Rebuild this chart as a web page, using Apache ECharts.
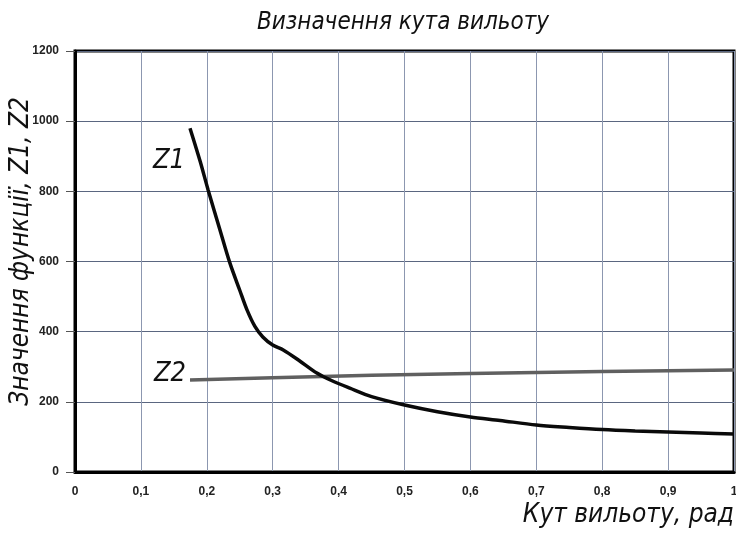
<!DOCTYPE html>
<html><head><meta charset="utf-8">
<script src="https://cdn.jsdelivr.net/npm/echarts@6/dist/echarts.min.js"></script>
<style>html,body{margin:0;padding:0;background:#fff}#c{width:736px;height:535px}</style>
</head><body><div id="c"></div>
<script>
const titleText = 'Визначення кута вильоту';
const xName = 'Кут вильоту, рад';
const yName = 'Значення функції, Z1, Z2';
const z1Name = 'Z1';
const z2Name = 'Z2';
const z1X = [0.1745, 0.19, 0.202, 0.22, 0.235, 0.25, 0.261, 0.273, 0.285, 0.30, 0.316, 0.34, 0.367, 0.39, 0.417, 0.45, 0.5, 0.55, 0.6, 0.645, 0.7, 0.75, 0.8, 0.85, 0.9, 0.95, 1.0];
const z1Y = [980, 885, 804, 690, 596, 518, 462, 415, 385, 362, 348, 318, 282, 260, 239, 215, 191, 172, 157, 147, 134, 127, 121, 117, 114, 111, 108];
const z2X = [0.1745, 0.3, 0.45, 0.6, 0.8, 1.0];
const z2Y = [262, 268.5, 275.5, 281, 286.5, 291];
const fontLabel = '"Liberation Sans Narrow", "DejaVu Sans Condensed", sans-serif';

const chart = echarts.init(document.getElementById('c'), null, {renderer: 'canvas'});
const pairs = (xs, ys) => xs.map((x, i) => [x, ys[i]]);
const italicText = {fontFamily: fontLabel, fontStyle: 'italic', fontWeight: 'lighter', color: '#111'};

chart.setOption({
  animation: false,
  backgroundColor: '#fff',
  title: {
    text: titleText, left: 398, top: 6, textAlign: 'center',
    textStyle: Object.assign({fontSize: 24}, italicText)
  },
  grid: {left: 75, right: 2, top: 51, bottom: 63, show: true, borderColor: '#000', borderWidth: 3,
         backgroundColor: 'transparent', containLabel: false, outerBoundsMode: 'none'},
  xAxis: {
    type: 'value', min: 0, max: 1, interval: 0.1,
    name: xName, nameLocation: 'end', nameGap: 0, nameMoveOverlap: false,
    nameTextStyle: Object.assign({fontSize: 26, align: 'right', verticalAlign: 'top', padding: [30, 0, 0, 0]}, italicText),
    axisLine: {show: true, lineStyle: {color: '#000', width: 3}},
    axisTick: {show: false},
    axisLabel: {margin: 14, fontFamily: '"Liberation Sans", Arial, sans-serif', fontWeight: 'bold', fontSize: 12, color: '#222',
      formatter: v => String(Math.round(v * 10) / 10).replace('.', ',')},
    splitLine: {show: true, lineStyle: {color: '#8c97b0', width: 1}}
  },
  yAxis: {
    type: 'value', min: 0, max: 1200, interval: 200,
    name: yName, nameLocation: 'middle', nameGap: 41, nameRotate: 90, nameMoveOverlap: false,
    nameTextStyle: Object.assign({fontSize: 26, padding: [0, 0, 0, 20]}, italicText),
    axisLine: {show: true, lineStyle: {color: '#000', width: 3}},
    axisTick: {show: true, length: 9, lineStyle: {color: '#555', width: 1}},
    axisLabel: {margin: 16, fontFamily: '"Liberation Sans", Arial, sans-serif', fontWeight: 'bold', fontSize: 12, color: '#222',
      formatter: v => String(v)},
    splitLine: {show: true, lineStyle: {color: '#5a6680', width: 1}}
  },
  series: [
    {name: z1Name, type: 'line', smooth: 0.3, showSymbol: false, symbol: 'none', data: pairs(z1X, z1Y),
     lineStyle: {color: '#0a0a0a', width: 3.5}, z: 3,
     markPoint: {symbol: 'circle', symbolSize: 0, silent: true,
       data: [{coord: [z1X[0], z1Y[0]], label: Object.assign({show: true, formatter: z1Name, fontSize: 27, position: 'left', offset: [0, 33]}, italicText)}]}},
    {name: z2Name, type: 'line', smooth: false, showSymbol: false, symbol: 'none', data: pairs(z2X, z2Y),
     lineStyle: {color: '#606060', width: 3.5}, z: 2,
     markPoint: {symbol: 'circle', symbolSize: 0, silent: true,
       data: [{coord: [z2X[0], z2Y[0]], label: Object.assign({show: true, formatter: z2Name, fontSize: 27, position: 'left', offset: [1, -6]}, italicText)}]}}
  ]
});
</script></body></html>
